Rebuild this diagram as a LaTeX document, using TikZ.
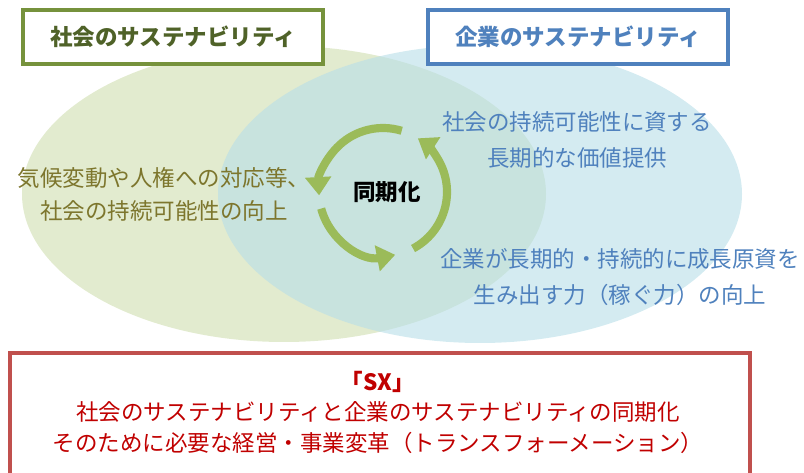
\documentclass[tikz,border=0pt]{standalone}
\usepackage{fontspec}
\setmainfont{Noto Sans CJK JP}
\usetikzlibrary{arrows.meta, positioning}
\definecolor{color1}{RGB}{226,235,207}
\definecolor{color2}{RGB}{183,222,232}
\definecolor{color3}{RGB}{155,187,89}
\definecolor{color4}{RGB}{118,146,60}
\definecolor{color5}{RGB}{79,98,40}
\definecolor{color6}{RGB}{79,129,189}
\definecolor{color7}{RGB}{192,80,77}
\definecolor{color8}{RGB}{192,0,0}
\definecolor{color9}{RGB}{125,118,45}

\begin{document}
\begin{tikzpicture}[x=0.025cm, y=0.025cm, line cap=round,
    titlebox/.style={draw, line width=2.5pt, fill=white, minimum width=7.5cm, minimum height=1.35cm, font=\fontsize{16}{20}\selectfont\bfseries},
    bodytext/.style={align=center, font=\fontsize{16}{25}\selectfont},
    cycarrow/.style={color3, line width=5.8pt, line cap=butt, -{Triangle[length=13pt, width=18pt]}}]
        \useasboundingbox (0, 0) rectangle (804, 473);
        %\draw [step=50, very thin, lightgray] (0, 0) grid (804, 473);
        \fill [color1] (284, 279) ellipse [x radius=262, y radius=148];
        \fill [color2, opacity=0.6] (480, 279) ellipse [x radius=262, y radius=149];
        \node [titlebox, draw=color4, text=color5] (soc) at (173, 436) {社会のサステナビリティ};
        \node [titlebox, draw=color6, text=color6] (corp) at (578, 436) {企業のサステナビリティ};
        \node [bodytext, text=color9, font=\fontsize{16}{23.5}\selectfont] (socgoal) at (164, 279) {気候変動や人権への対応等、\\社会の持続可能性の向上};
        \node [bodytext, text=color6] (value) at (577, 333) {社会の持続可能性に資する\\長期的な価値提供};
        \node [bodytext, text=color6] (power) at (620, 196) {企業が長期的・持続的に成長原資を\\生み出す力（稼ぐ力）の向上};
        \coordinate (cyc) at (383, 281);
        \node [font=\fontsize{16}{20}\selectfont\bfseries] (sync) at (387, 281) {同期化};
        \foreach \a/\b in {73/183, 195/281, 298/417}
            \draw [cycarrow] (cyc) ++(\a:64) arc [start angle=\a, end angle=\b, radius=64];
        \draw [color7, line width=2.2pt] (10, -20) rectangle (750, 120);
        \node [text=color8, align=center, font=\fontsize{16}{21.7}\selectfont] (sx) at (378, 61) {{\bfseries 「SX」}\\社会のサステナビリティと企業のサステナビリティの同期化\\そのために必要な経営・事業変革（トランスフォーメーション）};
    \end{tikzpicture}
\end{document}
